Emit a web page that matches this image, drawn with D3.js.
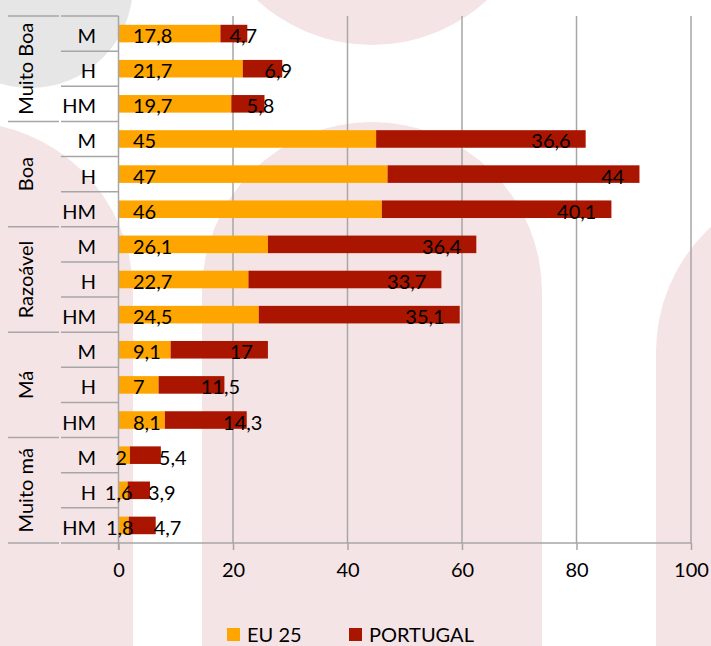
<!DOCTYPE html>
<html>
<head>
<meta charset="utf-8">
<script src="https://cdn.jsdelivr.net/npm/d3@7"></script>
<style>
  html, body { margin: 0; padding: 0; background: #ffffff; }
  svg { display: block; }
  text { font-family: Lato, "Open Sans", sans-serif; fill: #000; }
</style>
</head>
<body>
<svg id="chart" width="711" height="646"></svg>
<script>
// ---- data ----
const groups = ["Muito Boa", "Boa", "Razoável", "Má", "Muito má"];
const subgroups = ["M", "H", "HM"];
const eu25 = [17.8, 21.7, 19.7, 45, 47, 46, 26.1, 22.7, 24.5, 9.1, 7, 8.1, 2, 1.6, 1.8];
const portugal = [4.7, 6.9, 5.8, 36.6, 44, 40.1, 36.4, 33.7, 35.1, 17, 11.5, 14.3, 5.4, 3.9, 4.7];
const xTicks = [0, 20, 40, 60, 80, 100];
const seriesNames = ["EU 25", "PORTUGAL"];

// ---- setup ----
const W = 711, H = 646;
const svg = d3.select("#chart");
const colors = { eu: "#ffa500", pt: "#aa1500", grid: "#a6a6a6", pink: "#f5e4e6", gray: "#e6e6e6" };
const fmt = v => String(v).replace(".", ",");

const rows = [];
groups.forEach((g, gi) => subgroups.forEach((s, si) => {
  const i = gi * subgroups.length + si;
  rows.push({ id: g + "|" + s, group: g, gi, sub: s, si, eu: eu25[i], pt: portugal[i] });
}));

// ---- background decoration ----
const bg = svg.append("g");
bg.append("circle").attr("cx", 30).attr("cy", -15).attr("r", 103).attr("fill", colors.gray);
bg.append("circle").attr("cx", 372).attr("cy", -125).attr("r", 170).attr("fill", colors.pink);
[[-37, 292], [372, 292], [826, 352]].forEach(([cx, cy]) => {
  bg.append("circle").attr("cx", cx).attr("cy", cy).attr("r", 170).attr("fill", colors.pink);
  bg.append("rect").attr("x", cx - 170).attr("y", cy).attr("width", 340).attr("height", H - cy + 10).attr("fill", colors.pink);
});

// ---- scales ----
const x = d3.scaleLinear().domain([0, 100]).range([118.5, 691]);
const y = d3.scaleBand().domain(rows.map(r => r.id)).range([16, 543]).paddingInner(0.5).paddingOuter(0.25);
const step = y.step();
const top0 = 16;

// ---- gridlines ----
svg.append("g").selectAll("line").data(xTicks.filter(t => t > 0)).join("line")
  .attr("x1", d => x(d)).attr("x2", d => x(d))
  .attr("y1", top0).attr("y2", 543)
  .attr("stroke", colors.grid).attr("stroke-width", 1.5);

// ---- bars ----
const bars = svg.append("g");
bars.selectAll("rect.eu").data(rows).join("rect").attr("class", "eu")
  .attr("x", x(0)).attr("y", d => y(d.id))
  .attr("width", d => x(d.eu) - x(0)).attr("height", y.bandwidth())
  .attr("fill", colors.eu);
bars.selectAll("rect.pt").data(rows).join("rect").attr("class", "pt")
  .attr("x", d => x(d.eu)).attr("y", d => y(d.id))
  .attr("width", d => x(d.eu + d.pt) - x(d.eu)).attr("height", y.bandwidth())
  .attr("fill", colors.pt);

// ---- x axis ----
const xAxis = d3.axisBottom(x).tickValues(xTicks).tickSize(7).tickPadding(13).tickFormat(d => d);
const ax = svg.append("g").attr("transform", "translate(0,543)").call(xAxis);
ax.select(".domain").attr("stroke", colors.grid).attr("stroke-width", 1.5).attr("d", `M${x(0)},0H${x(100)}`);
ax.selectAll(".tick line").attr("stroke", colors.grid).attr("stroke-width", 1.5);
ax.selectAll(".tick text").attr("font-size", 20).attr("font-family", "Lato").attr("fill", "#000").attr("dy", "0.71em");

// ---- category axis (multi-level) ----
const cat = svg.append("g");
cat.append("line").attr("x1", x(0)).attr("x2", x(0)).attr("y1", top0).attr("y2", 550)
  .attr("stroke", colors.grid).attr("stroke-width", 1.5);
d3.range(rows.length + 1).forEach(i => {
  const yy = top0 + i * step;
  cat.append("line").attr("x1", 61).attr("x2", x(0)).attr("y1", yy).attr("y2", yy)
    .attr("stroke", colors.grid).attr("stroke-width", 1.5);
  if (i % subgroups.length === 0) {
    cat.append("line").attr("x1", 8).attr("x2", 59).attr("y1", yy).attr("y2", yy)
      .attr("stroke", colors.grid).attr("stroke-width", 1.5);
  }
});
cat.selectAll("text.sub").data(rows).join("text").attr("class", "sub")
  .attr("x", 96).attr("y", d => y(d.id) + y.bandwidth() / 2 + 9.5)
  .attr("text-anchor", "end").attr("font-size", 20).text(d => d.sub);
cat.selectAll("text.grp").data(groups).join("text").attr("class", "grp")
  .attr("transform", (g, gi) => `translate(33,${top0 + (gi + 0.5) * subgroups.length * step}) rotate(-90)`)
  .attr("text-anchor", "middle").attr("font-size", 20).text(g => g);

// ---- data labels ----
const lab = svg.append("g").attr("font-size", 20);
lab.selectAll("text.leu").data(rows).join("text").attr("class", "leu")
  .attr("x", d => d.eu < 5 ? x(d.eu) - 9 : x(0) + 14.5)
  .attr("text-anchor", d => d.eu < 5 ? "middle" : "start")
  .attr("y", d => y(d.id) + y.bandwidth() / 2 + 9.5)
  .text(d => fmt(d.eu));
lab.selectAll("text.lpt").data(rows).join("text").attr("class", "lpt")
  .attr("x", d => {
    const end = x(d.eu + d.pt);
    if (d.pt >= 15) return end - 15;
    if (d.eu < 5) return end - 2;
    return end - 4;
  })
  .attr("text-anchor", d => d.pt >= 15 ? "end" : (d.eu < 5 ? "start" : "middle"))
  .attr("y", d => y(d.id) + y.bandwidth() / 2 + 9.5)
  .text(d => fmt(d.pt));

// ---- legend ----
const leg = svg.append("g");
const legItems = [{ name: seriesNames[0], c: colors.eu, x: 227 }, { name: seriesNames[1], c: colors.pt, x: 349 }];
legItems.forEach(it => {
  leg.append("rect").attr("x", it.x).attr("y", 628).attr("width", 13).attr("height", 13).attr("fill", it.c);
  leg.append("text").attr("x", it.x + 20).attr("y", 642).attr("font-size", 20).text(it.name);
});
</script>
</body>
</html>
